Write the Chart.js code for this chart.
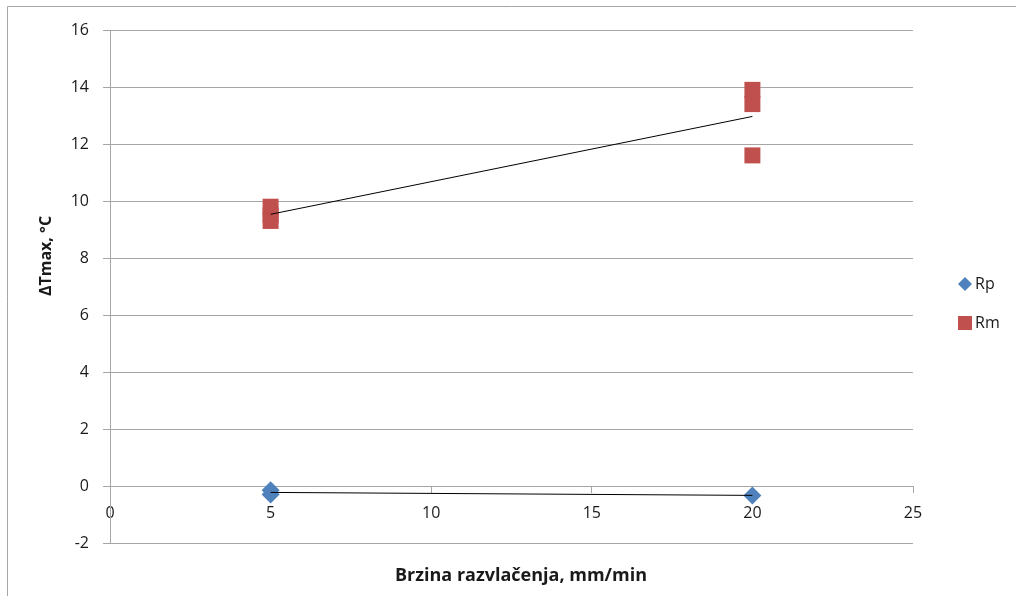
<!DOCTYPE html>
<html>
<head>
<meta charset="utf-8">
<script src="https://cdn.jsdelivr.net/npm/chart.js@4/dist/chart.umd.min.js"></script>
<style>
  html, body { margin: 0; padding: 0; background: #fff; }
</style>
</head>
<body>
<canvas id="myChart" width="1016" height="596"></canvas>
<script>
// podaci sa grafika
const rpX = [5, 5, 20];
const rpY = [-0.15, -0.3, -0.33];
const rmX = [5, 5, 5, 20, 20, 20];
const rmY = [9.8, 9.5, 9.3, 13.9, 13.4, 11.6];
const xTicks = [0, 5, 10, 15, 20, 25];
const yTicks = [-2, 0, 2, 4, 6, 8, 10, 12, 14, 16];

const xTitle = 'Brzina razvlačenja, mm/min';
const yTitle = 'ΔTmax, °C';
const FONT = '"Open Sans", sans-serif';

const toPoints = (xs, ys) => xs.map((x, i) => ({ x: x, y: ys[i] }));

// linearni trend (najmanji kvadrati)
function trend(xs, ys) {
  const n = xs.length;
  const mx = xs.reduce((a, b) => a + b, 0) / n;
  const my = ys.reduce((a, b) => a + b, 0) / n;
  let sxy = 0, sxx = 0;
  xs.forEach((x, i) => { sxy += (x - mx) * (ys[i] - my); sxx += (x - mx) * (x - mx); });
  const k = sxy / sxx, b = my - k * mx;
  const x0 = Math.min(...xs), x1 = Math.max(...xs);
  return [{ x: x0, y: k * x0 + b }, { x: x1, y: k * x1 + b }];
}

const legendItems = [
  { label: 'Rp', color: '#4f81bd', shape: 'diamond' },
  { label: 'Rm', color: '#c0504d', shape: 'square' }
];

// okvir, naslovi osa i legenda
const decor = {
  id: 'decor',
  afterDraw(chart) {
    const c = chart.ctx;
    c.save();
    c.strokeStyle = '#a6a6a6';
    c.lineWidth = 1;
    c.beginPath();
    c.moveTo(7.5, 596);
    c.lineTo(7.5, 6.5);
    c.lineTo(1016, 6.5);
    c.stroke();

    c.fillStyle = '#1a1a1a';
    c.textAlign = 'center';
    c.textBaseline = 'middle';
    c.font = 'bold 18px ' + FONT;
    c.fillText(xTitle, 521, 576);
    c.font = 'bold 16px ' + FONT;
    c.translate(46, 256);
    c.rotate(-Math.PI / 2);
    c.fillText(yTitle, 0, 0);
    c.restore();

    c.save();
    c.font = '16px ' + FONT;
    c.textBaseline = 'middle';
    c.textAlign = 'left';
    legendItems.forEach((it, i) => {
      const cx = 965, cy = 284 + i * 39;
      c.fillStyle = it.color;
      c.beginPath();
      if (it.shape === 'diamond') {
        c.moveTo(cx, cy - 7); c.lineTo(cx + 7, cy); c.lineTo(cx, cy + 7); c.lineTo(cx - 7, cy);
        c.closePath();
      } else {
        c.rect(cx - 7, cy - 7, 14, 14);
      }
      c.fill();
      c.fillStyle = '#1a1a1a';
      c.fillText(it.label, cx + 10, cy);
    });
    c.restore();
  }
};

const ctx = document.getElementById('myChart');

new Chart(ctx, {
  type: 'scatter',
  data: {
    datasets: [
      {
        label: 'Rp trend',
        type: 'line',
        data: trend(rpX, rpY),
        borderColor: '#000',
        borderWidth: 1,
        pointRadius: 0,
        order: 0
      },
      {
        label: 'Rm trend',
        type: 'line',
        data: trend(rmX, rmY),
        borderColor: '#000',
        borderWidth: 1,
        pointRadius: 0,
        order: 0
      },
      {
        label: 'Rp',
        data: toPoints(rpX, rpY),
        pointStyle: 'rectRot',
        pointRadius: 9,
        pointHoverRadius: 9,
        borderWidth: 0,
        backgroundColor: '#4f81bd',
        order: 1
      },
      {
        label: 'Rm',
        data: toPoints(rmX, rmY),
        pointStyle: 'rect',
        pointRadius: 11.3,
        pointHoverRadius: 11.3,
        borderWidth: 0,
        backgroundColor: '#c0504d',
        order: 1
      }
    ]
  },
  options: {
    responsive: false,
    animation: false,
    devicePixelRatio: 1,
    layout: { padding: { left: 0, right: 103, top: 30, bottom: 53 } },
    plugins: { legend: { display: false }, tooltip: { enabled: false } },
    scales: {
      x: {
        type: 'linear',
        position: { y: 0 },
        min: 0,
        max: 25,
        afterBuildTicks: (s) => { s.ticks = xTicks.map(v => ({ value: v })); },
        ticks: { color: '#1a1a1a', font: { family: FONT, size: 16 }, padding: 12, maxRotation: 0 },
        grid: { drawOnChartArea: false, tickLength: 6, color: '#a6a6a6' },
        border: { color: '#a6a6a6' }
      },
      y: {
        min: -2,
        max: 16,
        afterBuildTicks: (s) => { s.ticks = yTicks.map(v => ({ value: v })); },
        afterFit: (s) => { s.width = 110; },
        ticks: { color: '#1a1a1a', font: { family: FONT, size: 16 }, padding: 14 },
        grid: { color: '#a6a6a6', tickLength: 7 },
        border: { color: '#a6a6a6' }
      }
    }
  },
  plugins: [decor]
});
</script>
</body>
</html>
